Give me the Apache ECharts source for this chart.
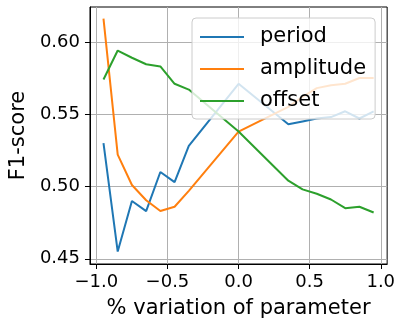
<!DOCTYPE html>
<html>
<head>
<meta charset="utf-8">
<script src="https://cdn.jsdelivr.net/npm/echarts@6/dist/echarts.min.js"></script>
<style>
html,body{margin:0;padding:0;background:#fff;}
#chart{width:398px;height:324px;}
</style>
</head>
<body>
<div id="chart"></div>
<script>
// x positions (% variation of parameter)
const variation = [-0.95, -0.85, -0.75, -0.65, -0.55, -0.45, -0.35, 0, 0.35, 0.45, 0.55, 0.65, 0.75, 0.85, 0.95];
const period    = [0.530, 0.455, 0.490, 0.483, 0.510, 0.503, 0.528, 0.571, 0.543, 0.545, 0.547, 0.548, 0.552, 0.547, 0.552];
const amplitude = [0.616, 0.522, 0.501, 0.4905, 0.483, 0.486, 0.497, 0.538, 0.555, 0.562, 0.568, 0.570, 0.571, 0.575, 0.575];
const offset    = [0.574, 0.594, 0.589, 0.5845, 0.583, 0.571, 0.567, 0.538, 0.504, 0.498, 0.495, 0.491, 0.485, 0.486, 0.482];
const seriesNames = ['period', 'amplitude', 'offset'];
const xTicks = [-1.0, -0.5, 0.0, 0.5, 1.0];
const yTicks = [0.45, 0.50, 0.55, 0.60];

const colors = ['#1f77b4', '#ff7f0e', '#2ca02c'];
const values = [period, amplitude, offset];
const FONT = 'DejaVu Sans';

const chart = echarts.init(document.getElementById('chart'), null, {renderer: 'canvas'});
chart.setOption({
  animation: false,
  backgroundColor: '#fff',
  color: colors,
  textStyle: {fontFamily: FONT},
  grid: {left: 87, right: 9, top: 7, bottom: 55, show: true, borderColor: '#000', borderWidth: 1, backgroundColor: 'transparent'},
  legend: {
    orient: 'vertical', left: 192, top: 18,
    data: seriesNames,
    itemWidth: 44, itemHeight: 2, icon: 'rect', itemGap: 8,
    padding: [7, 9, 6, 8],
    backgroundColor: 'rgba(255,255,255,0.8)',
    borderColor: '#cccccc', borderWidth: 1, borderRadius: 4,
    textStyle: {fontFamily: FONT, fontSize: 21, color: '#000', lineHeight: 24, padding: [0, 0, 0, 11]}
  },
  xAxis: {
    type: 'value', min: -1.045, max: 1.045,
    name: '% variation of parameter', nameLocation: 'middle', nameGap: 34,
    nameTextStyle: {fontFamily: FONT, fontSize: 21, color: '#000', verticalAlign: 'top'},
    axisLine: {show: true, onZero: false, lineStyle: {color: '#000', width: 1}},
    axisTick: {show: true, length: 5, lineStyle: {color: '#000', width: 1}, customValues: xTicks},
    axisLabel: {fontFamily: FONT, fontSize: 18, color: '#000', margin: 9, customValues: xTicks,
      formatter: v => (v < 0 ? '\u2212' : '') + Math.abs(v).toFixed(1)},
    splitLine: {show: true, lineStyle: {color: '#b0b0b0', width: 1}}
  },
  yAxis: {
    type: 'value', min: 0.4464, max: 0.6241,
    name: 'F1-score', nameLocation: 'middle', nameGap: 60,
    nameTextStyle: {fontFamily: FONT, fontSize: 21, color: '#000'},
    axisLine: {show: true, onZero: false, lineStyle: {color: '#000', width: 1}},
    axisTick: {show: true, length: 5, lineStyle: {color: '#000', width: 1}, customValues: yTicks},
    axisLabel: {fontFamily: FONT, fontSize: 18, color: '#000', margin: 10, customValues: yTicks,
      formatter: v => v.toFixed(2)},
    splitLine: {show: true, lineStyle: {color: '#b0b0b0', width: 1}}
  },
  series: seriesNames.map((n, k) => ({
    name: n, type: 'line', showSymbol: false, symbol: 'none',
    lineStyle: {width: 2, color: colors[k]},
    itemStyle: {color: colors[k]},
    data: variation.map((x, i) => [x, values[k][i]])
  }))
});
</script>
</body>
</html>
